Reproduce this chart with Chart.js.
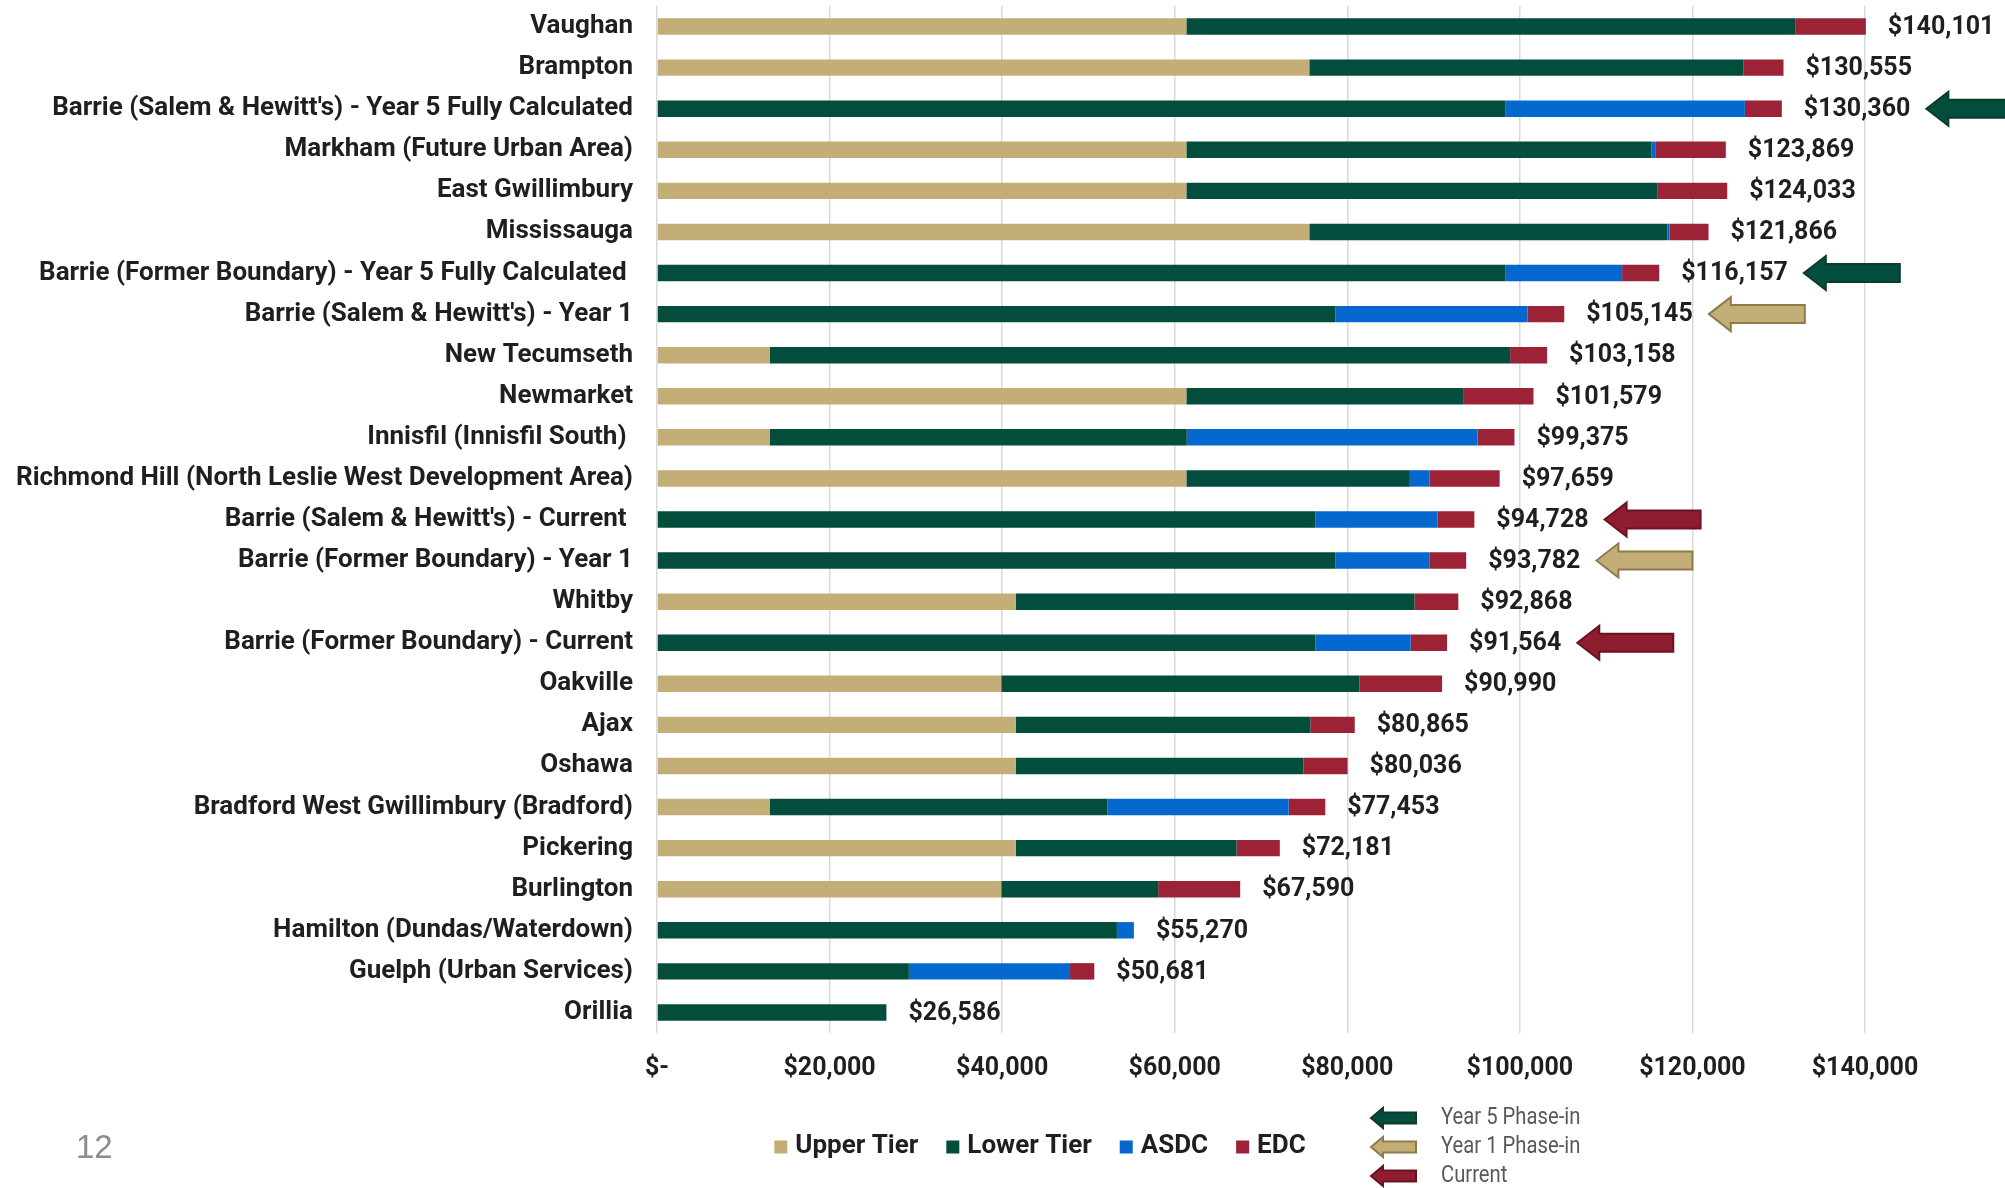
<!DOCTYPE html>
<html>
<head>
<meta charset="utf-8">
<script src="https://cdn.jsdelivr.net/npm/chart.js@4.4.0/dist/chart.umd.min.js"></script>
<style>
  html, body { margin: 0; padding: 0; background: #ffffff; }
  #wrap { position: relative; width: 2005px; height: 1188px; }
</style>
</head>
<body>
<div id="wrap"><canvas id="dcChart" width="2005" height="1188"></canvas></div>
<script>
// development charge comparison, per single detached unit
var categories = [
  "Vaughan",
  "Brampton",
  "Barrie (Salem & Hewitt's) - Year 5 Fully Calculated",
  "Markham (Future Urban Area)",
  "East Gwillimbury",
  "Mississauga",
  "Barrie (Former Boundary) - Year 5 Fully Calculated ",
  "Barrie (Salem & Hewitt's) - Year 1",
  "New Tecumseth",
  "Newmarket",
  "Innisfil (Innisfil South) ",
  "Richmond Hill (North Leslie West Development Area)",
  "Barrie (Salem & Hewitt's) - Current ",
  "Barrie (Former Boundary) - Year 1",
  "Whitby",
  "Barrie (Former Boundary) - Current",
  "Oakville",
  "Ajax",
  "Oshawa",
  "Bradford West Gwillimbury (Bradford)",
  "Pickering",
  "Burlington",
  "Hamilton (Dundas/Waterdown)",
  "Guelph (Urban Services)",
  "Orillia"
];
var upperTier = [61350, 75600, 0, 61350, 61350, 75600, 0, 0, 13050, 61350, 13050, 61350, 0, 0, 41600, 0, 39900, 41600, 41600, 13050, 41600, 39900, 0, 0, 0];
var lowerTier = [70620, 50330, 98300, 53890, 54570, 41520, 98300, 78630, 85820, 32150, 48350, 25900, 76310, 78610, 46190, 76310, 41520, 34120, 33310, 39150, 25560, 18180, 53300, 29190, 26586];
var asdc      = [0, 0, 27780, 520, 0, 210, 13550, 22270, 0, 0, 33700, 2300, 14140, 10950, 0, 11030, 0, 0, 0, 21010, 0, 0, 1970, 18680, 0];
var edc       = [8131, 4625, 4280, 8109, 8113, 4536, 4307, 4245, 4288, 8079, 4275, 8109, 4278, 4222, 5078, 4224, 9570, 5145, 5126, 4243, 5021, 9510, 0, 2811, 0];
var totals    = [140101, 130555, 130360, 123869, 124033, 121866, 116157, 105145, 103158, 101579, 99375, 97659, 94728, 93782, 92868, 91564, 90990, 80865, 80036, 77453, 72181, 67590, 55270, 50681, 26586];
var xTicks = [0, 20000, 40000, 60000, 80000, 100000, 120000, 140000];

// rows flagged with a phase-in arrow
var year5Rows = [2, 6];
var year1Rows = [7, 13];
var currentRows = [12, 15];

var C = {
  upper: "#C4AE78",
  lower: "#024D3B",
  asdc: "#0568CF",
  edc: "#9C2236",
  text: "#1F1F1F",
  grid: "#D9D9D9"
};
var FONT = "Roboto";

function money(v) {
  return "$" + v.toLocaleString("en-US");
}

function drawArrow(ctx, tipX, cy, len, headLen, headH, shaftH, fill, stroke) {
  ctx.save();
  ctx.beginPath();
  ctx.moveTo(tipX, cy);
  ctx.lineTo(tipX + headLen, cy - headH / 2);
  ctx.lineTo(tipX + headLen, cy - shaftH / 2);
  ctx.lineTo(tipX + len, cy - shaftH / 2);
  ctx.lineTo(tipX + len, cy + shaftH / 2);
  ctx.lineTo(tipX + headLen, cy + shaftH / 2);
  ctx.lineTo(tipX + headLen, cy + headH / 2);
  ctx.closePath();
  ctx.fillStyle = fill;
  ctx.fill();
  ctx.lineWidth = 2;
  ctx.strokeStyle = stroke;
  ctx.stroke();
  ctx.restore();
}

var ARROWS = {
  year5: { fill: "#024D3B", stroke: "#0E3B2F" },
  year1: { fill: "#C4AE78", stroke: "#8E7B4C" },
  current: { fill: "#8E1D2F", stroke: "#6A1322" }
};

var extrasPlugin = {
  id: "extras",
  afterDatasetsDraw: function (chart) {
    var ctx = chart.ctx;
    var xs = chart.scales.x;
    var ys = chart.scales.y;

    // totals at bar ends
    ctx.save();
    ctx.font = "bold 25px " + FONT;
    ctx.fillStyle = C.text;
    ctx.textAlign = "left";
    ctx.textBaseline = "middle";
    var labelEnds = [];
    totals.forEach(function (t, i) {
      var sum = upperTier[i] + lowerTier[i] + asdc[i] + edc[i];
      var x = xs.getPixelForValue(sum) + 22;
      var y = ys.getPixelForValue(i) + 1;
      var txt = money(t);
      ctx.fillText(txt, x, y);
      labelEnds[i] = x + ctx.measureText(txt).width;
    });
    ctx.restore();

    // phase-in arrows
    function mark(rows, kind) {
      rows.forEach(function (i) {
        var cy = ys.getPixelForValue(i);
        drawArrow(ctx, labelEnds[i] + 16, cy, 96, 22, 34, 18, ARROWS[kind].fill, ARROWS[kind].stroke);
      });
    }
    mark(year5Rows, "year5");
    mark(year1Rows, "year1");
    mark(currentRows, "current");
  },
  afterDraw: function (chart) {
    var ctx = chart.ctx;
    ctx.save();

    // series legend
    ctx.font = "bold 26px " + FONT;
    ctx.textBaseline = "middle";
    ctx.textAlign = "left";
    var items = chart.data.datasets.map(function (d) {
      return { text: d.label, color: d.backgroundColor, w: ctx.measureText(d.label).width };
    });
    var box = 13, gapBox = 8, gapItem = 28;
    var total = 0;
    items.forEach(function (it, k) {
      total += box + gapBox + it.w + (k < items.length - 1 ? gapItem : 0);
    });
    var x = 1040 - total / 2;
    var ly = 1146;
    items.forEach(function (it) {
      ctx.fillStyle = it.color;
      ctx.fillRect(x, ly - box / 2 + 1, box, box);
      ctx.fillStyle = C.text;
      ctx.fillText(it.text, x + box + gapBox, ly);
      x += box + gapBox + it.w + gapItem;
    });

    // phase-in legend (condensed text)
    var keys = [["year5", "Year 5 Phase-in"], ["year1", "Year 1 Phase-in"], ["current", "Current"]];
    keys.forEach(function (k, n) {
      var cy = 1118 + n * 29;
      drawArrow(ctx, 1371, cy, 45, 12, 20, 11, ARROWS[k[0]].fill, ARROWS[k[0]].stroke);
      ctx.save();
      ctx.translate(1441, cy);
      ctx.scale(0.88, 1);
      ctx.font = "23px " + FONT;
      ctx.fillStyle = "#595959";
      ctx.fillText(k[1], 0, 0);
      ctx.restore();
    });

    // slide number
    ctx.font = "33px 'Liberation Sans', " + FONT;
    ctx.fillStyle = "#8C8C8C";
    ctx.fillText("12", 76, 1149);
    ctx.restore();
  }
};

new Chart(document.getElementById("dcChart"), {
  type: "bar",
  data: {
    labels: categories,
    datasets: [
      { label: "Upper Tier", data: upperTier, backgroundColor: C.upper },
      { label: "Lower Tier", data: lowerTier, backgroundColor: C.lower },
      { label: "ASDC", data: asdc, backgroundColor: C.asdc },
      { label: "EDC", data: edc, backgroundColor: C.edc }
    ]
  },
  options: {
    indexAxis: "y",
    responsive: false,
    animation: false,
    layout: { padding: { left: 10, right: 140, top: 6, bottom: 95 } },
    datasets: {
      bar: { categoryPercentage: 1, barPercentage: 0.4, borderWidth: 0, clip: false }
    },
    plugins: {
      legend: { display: false },
      tooltip: { enabled: false }
    },
    scales: {
      x: {
        stacked: true,
        min: 0,
        max: 140000,
        afterBuildTicks: function (scale) {
          scale.ticks = xTicks.map(function (v) { return { value: v }; });
        },
        afterFit: function (scale) {
          scale.height = 60;
          scale.paddingTop = 0;
          scale.paddingBottom = 0;
        },
        grid: { color: C.grid, lineWidth: 1.5, drawTicks: false },
        border: { display: false },
        ticks: {
          padding: 21,
          color: C.text,
          font: { family: FONT, size: 25, weight: "bold" },
          callback: function (v) { return v === 0 ? "$-" : money(v); }
        }
      },
      y: {
        stacked: true,
        afterFit: function (scale) {
          scale.width = 647;
          scale.paddingTop = 0;
          scale.paddingBottom = 0;
        },
        grid: { display: false, drawTicks: false },
        border: { display: false },
        ticks: {
          padding: 24,
          color: C.text,
          autoSkip: false,
          font: { family: FONT, size: 26, weight: "bold" }
        }
      }
    }
  },
  plugins: [extrasPlugin]
});
</script>
</body>
</html>
